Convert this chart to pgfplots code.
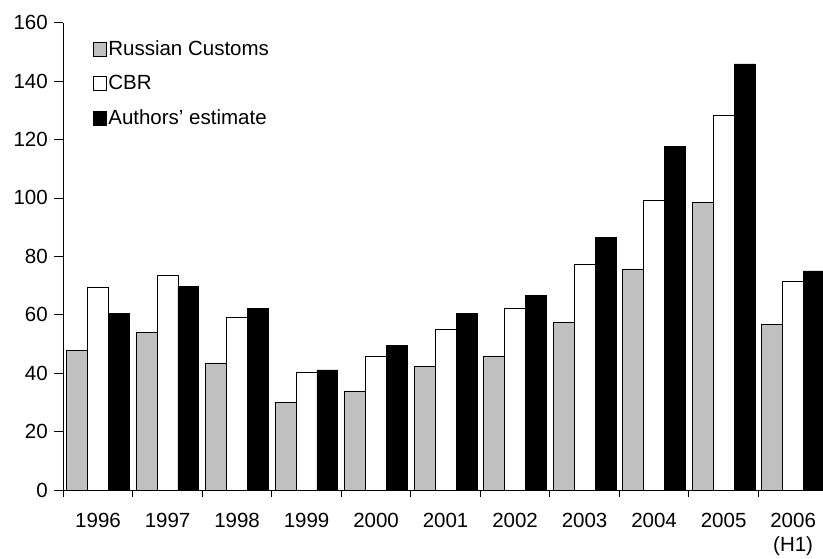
\documentclass[border=0pt]{standalone}
\usepackage{fontspec}
\setmainfont{Liberation Sans}
\usepackage{pgfplots}
\pgfplotsset{compat=1.18}

\definecolor{customs}{HTML}{C0C0C0}

\begin{document}
\begin{tikzpicture}[x=1pt,y=1pt]
  \useasboundingbox (0,0) rectangle (823,558);

  \begin{axis}[
      at={(63.3pt,68pt)},
      anchor=south west,
      scale only axis,
      width=759.7pt,
      height=467.3pt,
      xmin=-0.5, xmax=10.43,
      ymin=0, ymax=160,
      ytick={0,20,...,160},
      xtick={0,...,10},
      xticklabels={1996,1997,1998,1999,2000,2001,2002,2003,2004,2005,{2006\\(H1)}},
      minor xtick={-0.5,0.5,...,9.5},
      axis x line*=bottom,
      axis y line*=left,
      axis line style={line width=0.8pt},
      tick align=outside,
      major tick length=9pt,
      minor tick length=7pt,
      major x tick style={draw=none},
      every tick/.style={black,line width=0.8pt},
      tick label style={font=\fontsize{20.5}{24}\selectfont},
      xticklabel style={align=center, yshift=-11pt},
      yticklabel style={xshift=-3pt},
      /pgf/number format/assume math mode=true,
      bar width=0.3,
      legend cell align=left,
      legend image code/.code={\draw[#1] (0pt,-7pt) rectangle (13pt,7pt);},
      legend style={
        at={(0.039,0.965)}, anchor=north west,
        draw=none, fill=none, inner sep=0pt,
        row sep=15.5pt,
        nodes={inner sep=1.5pt},
        font=\fontsize{20.5}{24}\selectfont
      },
    ]
    % Russian Customs
    \addplot [ybar, bar shift=-0.3, fill=customs, draw=black, line width=0.7pt] coordinates {
      (0, 47.7)
      (1, 53.9)
      (2, 43.5)
      (3, 30.1)
      (4, 33.7)
      (5, 42.2)
      (6, 45.9)
      (7, 57.3)
      (8, 75.7)
      (9, 98.5)
      (10, 56.8)
    };
    \addlegendentry{Russian Customs}
    % CBR
    \addplot [ybar, bar shift=0, fill=white, draw=black, line width=0.7pt] coordinates {
      (0, 69.5)
      (1, 73.6)
      (2, 59.2)
      (3, 40.4)
      (4, 45.9)
      (5, 54.9)
      (6, 62.1)
      (7, 77.4)
      (8, 99.2)
      (9, 128.2)
      (10, 71.3)
    };
    \addlegendentry{CBR}
    % Authors' estimate
    \addplot [ybar, bar shift=0.3, fill=black, draw=black, line width=0.7pt] coordinates {
      (0, 60.4)
      (1, 69.6)
      (2, 62.2)
      (3, 41.1)
      (4, 49.5)
      (5, 60.4)
      (6, 66.5)
      (7, 86.5)
      (8, 117.5)
      (9, 145.9)
      (10, 75.0)
    };
    \addlegendentry{Authors’ estimate}
  \end{axis}
\end{tikzpicture}
\end{document}
